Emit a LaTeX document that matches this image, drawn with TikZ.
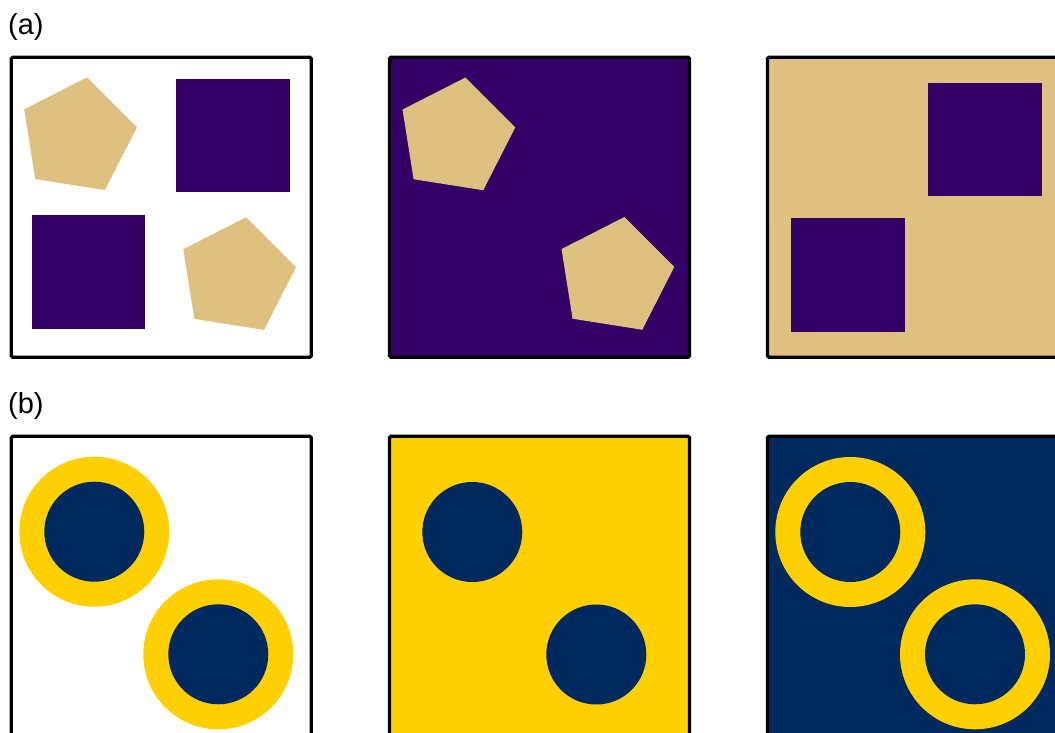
\documentclass[tikz,border=0pt]{standalone}
\usepackage{fontspec}
\setmainfont{Liberation Sans}
\definecolor{gold}{RGB}{222,193,128}
\definecolor{uwpurple}{RGB}{51,0,102}
\definecolor{maize}{RGB}{255,208,0}
\definecolor{navy}{RGB}{0,41,96}
\tikzset{
  panel/.style={draw=black, line width=3.3pt, rounded corners=1.5pt},
  lbl/.style={anchor=base west, inner sep=0pt, font=\fontsize{29}{33}\selectfont},
}
\newcommand{\pent}[3]{\fill[#1, shift={(#2,#3)}] (-81:60) -- (-9:60) -- (63:60) -- (135:60) -- (207:60) -- cycle;}
\begin{document}
\begin{tikzpicture}[x=1pt,y=-1pt]
\useasboundingbox (0,0) rectangle (1055,733);
\clip (0,0) rectangle (1055,733);
% labels
\node[lbl] (la) at (8,35) {(a)};
\node[lbl] (lb) at (8,413) {(b)};
% ---- row (a)
% panel 1
\fill[white] (11.3,57.3) rectangle (311.3,357.3);
\pent{gold}{77.7}{136.6}
\pent{gold}{236.8}{276.5}
\fill[uwpurple] (176.3,79.3) rectangle (290,192.3);
\fill[uwpurple] (31.7,215) rectangle (145.3,329);
\draw[panel] (11.3,57.3) rectangle (311.3,357.3);
% panel 2
\fill[uwpurple] (389.5,57.3) rectangle (689.5,357.3);
\pent{gold}{456}{136.8}
\pent{gold}{615}{276.3}
\draw[panel] (389.5,57.3) rectangle (689.5,357.3);
% panel 3
\fill[gold] (767.5,57.3) rectangle (1067.5,357.3);
\fill[uwpurple] (928.3,82.7) rectangle (1041.7,196);
\fill[uwpurple] (791.3,218.3) rectangle (904.7,332);
\draw[panel] (767.5,57.3) rectangle (1067.5,357.3);
% ---- row (b)
% panel 1
\fill[white] (11.3,436.3) rectangle (311.3,736.3);
\fill[maize] (94.3,531.7) circle[radius=75];
\fill[navy] (94.3,531.7) circle[radius=50];
\fill[maize] (218.3,654.3) circle[radius=75];
\fill[navy] (218.3,654.3) circle[radius=50];
\draw[panel] (11.3,436.3) rectangle (311.3,736.3);
% panel 2
\fill[maize] (389.5,436.3) rectangle (689.5,736.3);
\fill[navy] (472.3,532) circle[radius=50];
\fill[navy] (596.3,654.5) circle[radius=50];
\draw[panel] (389.5,436.3) rectangle (689.5,736.3);
% panel 3
\fill[navy] (767.5,436.3) rectangle (1067.5,736.3);
\fill[maize] (850.3,532) circle[radius=75];
\fill[navy] (850.3,532) circle[radius=50];
\fill[maize] (975,654.3) circle[radius=75];
\fill[navy] (975,654.3) circle[radius=50];
\draw[panel] (767.5,436.3) rectangle (1067.5,736.3);
\end{tikzpicture}
\end{document}
